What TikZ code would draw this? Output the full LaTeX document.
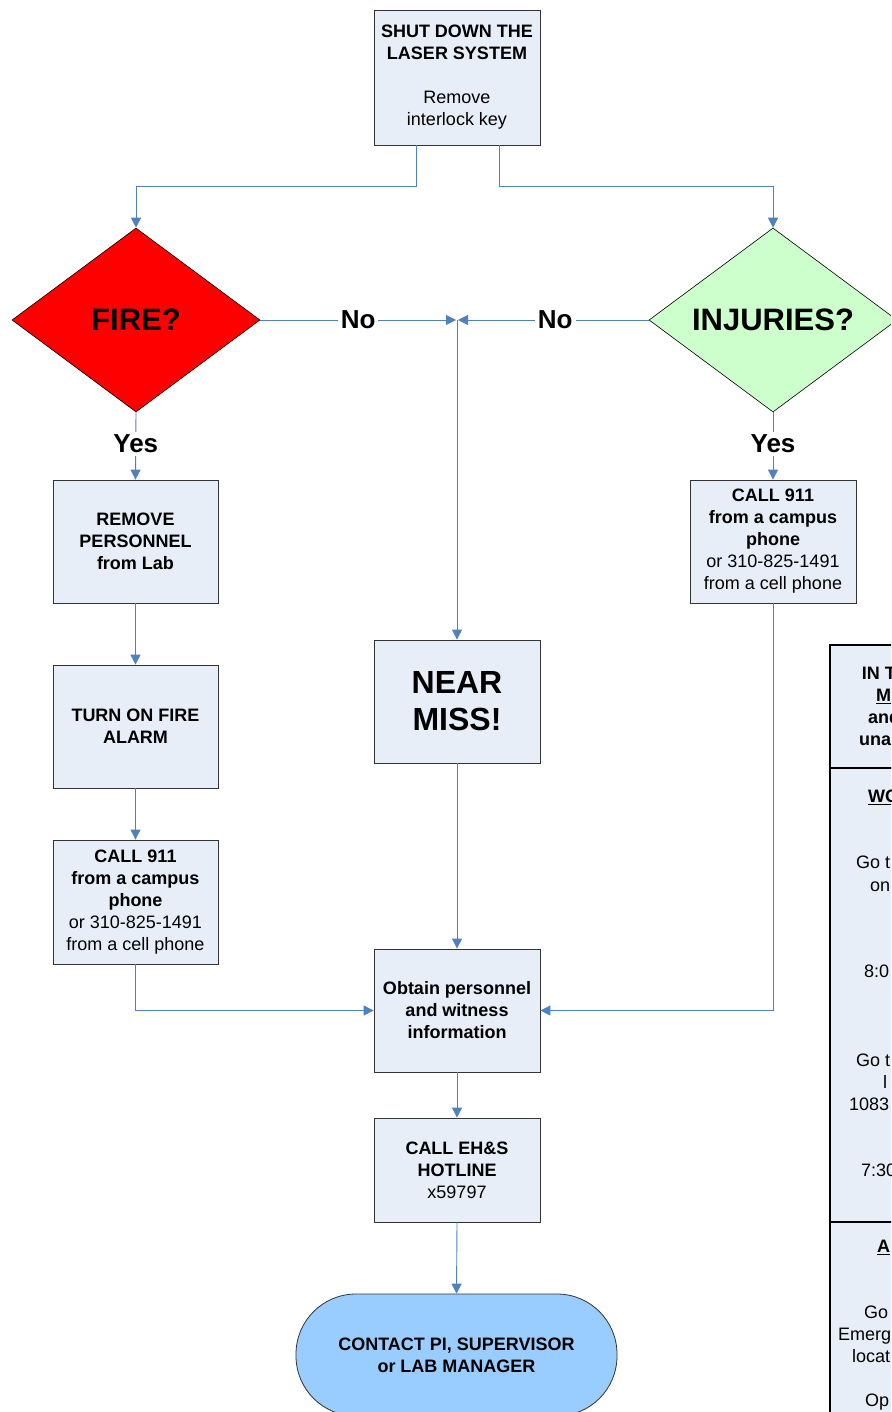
\documentclass[tikz,border=0pt]{standalone}
\usepackage{fontspec}
\setmainfont{Liberation Sans}
\usetikzlibrary{shapes.geometric,arrows.meta}
\definecolor{boxfill}{HTML}{E8EEF8}
\definecolor{connblue}{HTML}{4F81BD}
\definecolor{firered}{HTML}{FF0000}
\definecolor{injgreen}{HTML}{CCFFCC}
\definecolor{termblue}{HTML}{99CCFF}
\begin{document}
\begin{tikzpicture}[x=1pt,y=-1pt,
 box/.style={draw=black!80,fill=boxfill,line width=0.8pt,minimum width=166pt,minimum height=123pt,align=center,inner sep=0pt,font=\fontsize{18}{22}\selectfont\bfseries},
 dec/.style={diamond,draw=black,line width=0.6pt,minimum width=248pt,minimum height=184pt,inner sep=0pt,aspect=1.35,font=\fontsize{31}{36}\selectfont\bfseries},
 conn/.style={draw=connblue,line width=0.9pt},
 arr/.style={conn,-{Triangle[length=10pt,width=10pt]}},
 lbl/.style={fill=white,font=\fontsize{26}{30}\selectfont\bfseries,inner sep=3pt},
 ttext/.style={anchor=base west,inner sep=0pt,font=\fontsize{18}{22}\selectfont},
 tbold/.style={ttext,font=\fontsize{18}{22}\selectfont\bfseries}
]
\useasboundingbox (0,0) rectangle (891,1412);
\clip (0,0) rectangle (891,1412);

% right-hand table (cut off by the frame)
\draw[line width=2.5pt,fill=boxfill] (830,645) rectangle (960,1460);
\draw[line width=2.5pt] (830,768) -- (960,768);
\draw[line width=2.5pt] (830,1222) -- (960,1222);
\node[tbold] (t1) at (861.7,679.5) {IN T};
\node[tbold] (t2) at (876,701.5) {\underline{M}};
\node[tbold] (t3) at (868,723.5) {and};
\node[tbold] (t4) at (859,745.5) {una};
\node[tbold] (t5) at (868,802.5) {\underline{WO}};
\node[ttext] (t6) at (856,868.5) {Go t};
\node[ttext] (t7) at (870,891.5) {on};
\node[ttext] (t8) at (864,977.5) {8:0};
\node[ttext] (t9) at (856,1066.5) {Go t};
\node[ttext] (t10) at (883,1088.5) {l};
\node[ttext] (t11) at (849,1110.5) {1083};
\node[ttext] (t12) at (861,1176.5) {7:30};
\node[tbold] (t13) at (877,1252.5) {\underline{A}};
\node[ttext] (t14) at (864,1318.5) {Go};
\node[ttext] (t15) at (838,1340.5) {Emerg};
\node[ttext] (t16) at (852,1362.5) {locat};
\node[ttext] (t17) at (865,1406.5) {Op};

% nodes
\node[box,minimum height=135pt] (top) at (457,77.5) {SHUT DOWN THE\\LASER SYSTEM\\[22pt]\mdseries Remove\\\mdseries interlock key};
\node[dec,fill=firered] (fire) at (136,320) {FIRE?};
\node[dec,fill=injgreen] (inj) at (773,320) {INJURIES?};
\coordinate (merge) at (457,320);
\node[box,minimum width=165pt] (remove) at (135.5,541.5) {REMOVE\\PERSONNEL\\from Lab};
\node[box,minimum width=165pt] (alarm) at (135.5,726.5) {TURN ON FIRE\\ALARM};
\node[box,minimum width=165pt,minimum height=124pt] (call1) at (135.5,902) {CALL 911\\from a campus\\phone\\\mdseries or 310-825-1491\\\mdseries from a cell phone};
\node[box] (call2) at (773,541.5) {CALL 911\\from a campus\\phone\\\mdseries or 310-825-1491\\\mdseries from a cell phone};
\node[box,font=\fontsize{32}{37}\selectfont\bfseries] (near) at (457,701.5) {NEAR\\MISS!};
\node[box] (obtain) at (457,1010.5) {Obtain personnel\\and witness\\information};
\node[box,minimum height=104pt] (ehs) at (457,1170) {CALL EH\&S\\HOTLINE\\\mdseries x59797};
\node[draw=black!80,line width=0.8pt,fill=termblue,rounded corners=60pt,minimum width=321pt,minimum height=122pt,align=center,inner sep=0pt,font=\fontsize{18}{22}\selectfont\bfseries] (contact) at (456.5,1355) {CONTACT PI, SUPERVISOR\\or LAB MANAGER};

% connectors
\draw[arr] ([xshift=-41pt]top.south) -- ++(0,41) -| (fire.north);
\draw[arr] ([xshift=42pt]top.south) -- ++(0,41) -| (inj.north);
\draw[arr] (fire.east) -- node[lbl,pos=0.5] {No} ([xshift=-1pt]merge);
\draw[arr] (inj.west) -- node[lbl,pos=0.49] {No} ([xshift=1pt]merge);
\draw[arr] (merge) -- (near.north);
\draw[arr] (fire.south) -- node[lbl,pos=0.47] {Yes} (remove.north);
\draw[arr] (inj.south) -- node[lbl,pos=0.47] {Yes} (call2.north);
\draw[arr] (remove.south) -- (alarm.north);
\draw[arr] (alarm.south) -- (call1.north);
\draw[arr] (call1.south) |- (obtain.west);
\draw[arr] (call2.south) |- (obtain.east);
\draw[arr] (near.south) -- (obtain.north);
\draw[arr] (obtain.south) -- (ehs.north);
\draw[arr] (ehs.south) -- (contact.north);
\end{tikzpicture}
\end{document}
